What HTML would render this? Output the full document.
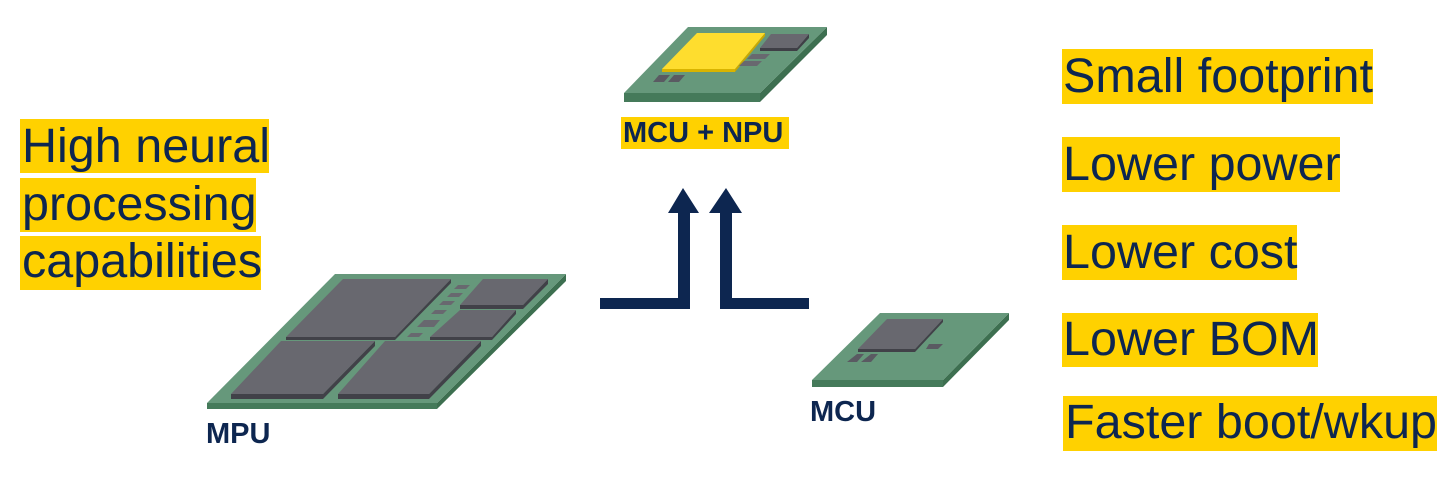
<!DOCTYPE html>
<html><head><style>
html,body{margin:0;padding:0;background:#fff;width:1444px;height:485px;overflow:hidden}
svg{display:block}
text{font-family:"Liberation Sans",Arial,sans-serif;fill:#0d2650}
</style></head><body>
<svg width="1444" height="485" viewBox="0 0 1444 485" xmlns="http://www.w3.org/2000/svg">
<!-- left text -->
<rect x="20" y="119" width="249" height="54" fill="#ffd100"/>
<rect x="20" y="178" width="236" height="54" fill="#ffd100"/>
<rect x="20" y="236" width="241" height="54" fill="#ffd100"/>
<text x="22" y="162" font-size="48.5">High neural</text>
<text x="22" y="220" font-size="48.5">processing</text>
<text x="22" y="277" font-size="48.5">capabilities</text>
<!-- right text -->
<rect x="1062" y="49" width="311" height="55" fill="#ffd100"/>
<rect x="1062" y="137" width="278" height="55" fill="#ffd100"/>
<rect x="1062" y="225" width="235" height="55" fill="#ffd100"/>
<rect x="1062" y="313" width="256" height="54" fill="#ffd100"/>
<rect x="1063" y="396" width="374" height="55" fill="#ffd100"/>
<text x="1063" y="92" font-size="48.5">Small footprint</text>
<text x="1063" y="180" font-size="48.5">Lower power</text>
<text x="1063" y="268" font-size="48.5">Lower cost</text>
<text x="1063" y="355" font-size="48.5">Lower BOM</text>
<text x="1065" y="438" font-size="48.5">Faster boot/wkup</text>
<!-- arrows -->
<g fill="#0d2650">
<path d="M600 298 H678 V213 H668 L683 188 L699 213 H690 V309 H600 Z"/>
<path d="M809 298 H732 V213 H742 L726 188 L709 213 H720 V309 H809 Z"/>
</g>
<!-- MCU+NPU chip -->
<g>
<polygon points="624,93 760,93 760,102 624,102" fill="#457a5a"/>
<polygon points="760,93 827,27 827,35 760,102" fill="#3d6f50"/>
<polygon points="688,27 827,27 760,93 624,93" fill="#66987b"/>
<polygon points="662,69 735,69 735,72 662,72" fill="#d9b400"/>
<polygon points="735,69 765,33 765,36 735,72" fill="#c9a800"/>
<polygon points="697,33 765,33 735,69 662,69" fill="#fedd2e"/>
<polygon points="760,48 797,48 797,51 760,51" fill="#3f3f46"/>
<polygon points="797,48 809,34 809,38 797,51" fill="#3f3f46"/>
<polygon points="771,34 809,34 797,48 760,48" fill="#68686f"/>
<polygon points="752,54 770,54 765,59 747,59" fill="#68686f"/>
<polygon points="744,61 762,61 757,66 739,66" fill="#68686f"/>
<polygon points="659,75 670,75 664,82 653,82" fill="#5a5a62"/>
<polygon points="674,75 685,75 679,82 668,82" fill="#5a5a62"/>
</g>
<rect x="621" y="117" width="168" height="32" fill="#ffd100"/>
<text x="623" y="142" font-size="29" font-weight="bold">MCU + NPU</text>
<!-- MPU -->
<g>
<polygon points="207,403 437,403 437,409 207,409" fill="#457a5a"/>
<polygon points="437,403 566,274 566,281 437,409" fill="#3d6f50"/>
<polygon points="335,274 566,274 437,403 207,403" fill="#66987b"/>
<polygon points="286,337 395,337 395,340 286,340" fill="#414148"/>
<polygon points="395,337 451,279 451,283 395,340" fill="#414148"/>
<polygon points="343,279 451,279 395,337 286,337" fill="#68686f"/>
<polygon points="231,394 323,394 323,399 231,399" fill="#414148"/>
<polygon points="323,394 375,341 375,346 323,399" fill="#414148"/>
<polygon points="281,341 375,341 323,394 231,394" fill="#68686f"/>
<polygon points="338,394 429,394 429,399 338,399" fill="#414148"/>
<polygon points="429,394 481,341 481,346 429,399" fill="#414148"/>
<polygon points="385,341 481,341 429,394 338,394" fill="#68686f"/>
<polygon points="460,305 523,305 523,309 460,309" fill="#414148"/>
<polygon points="523,305 548,279 548,284 523,309" fill="#414148"/>
<polygon points="483,279 548,279 523,305 460,305" fill="#68686f"/>
<polygon points="430,337 492,337 492,340 430,340" fill="#414148"/>
<polygon points="492,337 516,310 516,314 492,340" fill="#414148"/>
<polygon points="460,310 516,310 492,337 430,337" fill="#68686f"/>
<polygon points="458,285 470,285 466,289 454,289" fill="#68686f"/>
<polygon points="451,293 463,293 459,297 447,297" fill="#68686f"/>
<polygon points="443,301 455,301 451,305 439,305" fill="#68686f"/>
<polygon points="435,310 447,310 443,314 431,314" fill="#68686f"/>
<polygon points="424,320 440,320 434,327 417,327" fill="#68686f"/>
<polygon points="411,333 423,333 419,337 407,337" fill="#68686f"/>
</g>
<text x="206" y="443" font-size="29" font-weight="bold">MPU</text>
<!-- MCU -->
<g>
<polygon points="812,380 943,380 943,387 812,387" fill="#457a5a"/>
<polygon points="943,380 1009,313 1009,320 943,387" fill="#3d6f50"/>
<polygon points="880,313 1009,313 943,380 812,380" fill="#66987b"/>
<polygon points="858,349 915,349 915,352 858,352" fill="#414148"/>
<polygon points="915,349 943,319 943,322 915,352" fill="#414148"/>
<polygon points="887,319 943,319 915,349 858,349" fill="#68686f"/>
<polygon points="929,344 943,344 938,349 926,349" fill="#5a5a62"/>
<polygon points="857,354 864,354 857,362 847,362" fill="#5a5a62"/>
<polygon points="871,354 878,354 871,362 861,362" fill="#5a5a62"/>
</g>
<text x="810" y="421" font-size="29" font-weight="bold">MCU</text>
</svg>
</body></html>
